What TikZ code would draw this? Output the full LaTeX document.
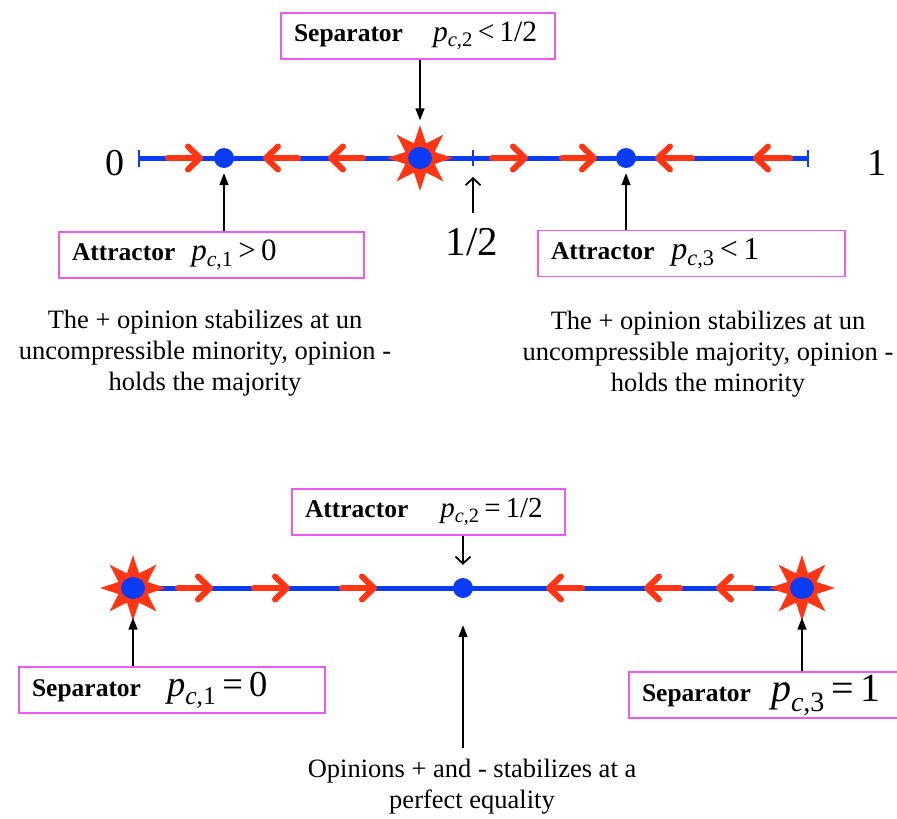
\documentclass[tikz,border=0pt]{standalone}
\usepackage{fontspec}
\setmainfont{Liberation Serif}
\usetikzlibrary{arrows.meta,shapes.geometric}

\definecolor{cblue}{HTML}{0A3CF5}
\definecolor{cred}{HTML}{FF3514}
\definecolor{cpink}{HTML}{EE5AEE}

% p with the "c,k" subscript, as printed in the boxes
\newcommand{\pcsub}[1]{\textit{p}\textsubscript{\textit{c},#1}}

\begin{document}
\begin{tikzpicture}[x=1pt, y=-1pt,
  axis/.style={cblue, line width=5pt},
  tickmark/.style={cblue, line width=2.5pt},
  flow/.style={cred, line width=6pt, line cap=round,
    -{Straight Barb[length=12pt,width=23pt,round]}},
  dotnode/.style={circle, fill=cblue, minimum size=20pt, inner sep=0pt},
  sepstar/.style={star, star points=8, star point ratio=2.1, minimum size=66pt,
    fill=cred, inner sep=0pt},
  stardot/.style={ellipse, fill=cblue, minimum width=24pt, minimum height=22pt,
    inner sep=0pt},
  box/.style={draw=cpink, line width=1.5pt, minimum height=46pt, inner xsep=13pt,
    inner ysep=0pt, align=left, font=\fontsize{25.5}{28}\selectfont},
  ptr/.style={line width=1.5pt, -{Triangle[length=12pt,width=9pt]}},
  optr/.style={line width=1.8pt, -{Straight Barb[length=7pt,width=15pt]}},
  caption/.style={align=center, font=\fontsize{26.5}{31}\selectfont},
  endlabel/.style={font=\fontsize{38}{38}\selectfont}]

\useasboundingbox (0,0) rectangle (897,819);

% ============================================================ upper line
\coordinate (lo) at (139,158);
\coordinate (hi) at (808,158);
\coordinate (mid) at (473,158);
\draw[axis] (lo) -- (hi);
\foreach \c in {lo,hi}
  \draw[tickmark] ([yshift=-8.5pt]\c) -- ([yshift=8.5pt]\c);
\draw[tickmark, line width=2pt] ([yshift=-8pt]mid) -- ([yshift=8pt]mid);

\foreach \a/\b in {168/203, 298/263, 363/328, 492/528, 562/597, 692/655, 790/753}
  \draw[flow] (\a,158) -- (\b,158);

\node[sepstar] (s2) at (420,158) {};
\node[stardot] (s2dot) at (s2) {};
\node[dotnode] (d1) at (224,158) {};
\node[dotnode] (d3) at (626,158) {};

\node[endlabel] (zero) at (115,163) {0};
\node[endlabel] (one) at (877,163) {1};
\node[endlabel, font=\fontsize{41}{41}\selectfont] (half) at (472,242) {1/2};

\node[box, text width=248pt] (sep2) at (418,36)
  {\textbf{Separator}\hspace{30pt}{\fontsize{29.5}{30}\selectfont\pcsub{2}\,<\,1/2}};
\node[box, text width=279pt] (att1) at (211.5,255)
  {\textbf{Attractor}\hspace{16pt}{\fontsize{31}{31}\selectfont\pcsub{1}\,>\,0}};
\node[box, text width=281pt] (att3) at (691.5,253.5)
  {\textbf{Attractor}\hspace{17pt}{\fontsize{32}{32}\selectfont\pcsub{3}\,<\,1}};

\draw[ptr] (sep2.south -| s2) -- ([yshift=4pt]s2.north);
\draw[ptr] (att1.north -| d1) -- ([yshift=-5pt]d1.south);
\draw[ptr] (att3.north -| d3) -- ([yshift=-5pt]d3.south);
\draw[optr, shorten <=12pt] (half.north -| mid) -- ([yshift=-19pt]mid);

\node[caption] (capl) at (205,353)
  {The + opinion stabilizes at un\\uncompressible minority, opinion -\\holds the majority};
\node[caption] (capr) at (708,354)
  {The + opinion stabilizes at un\\uncompressible majority, opinion -\\holds the minority};

% ============================================================ lower line
\coordinate (blo) at (133,588);
\coordinate (bhi) at (802,588);
\draw[axis] (blo) -- (bhi);
\foreach \a/\b in {178/213, 254/290, 342/377, 582/546, 680/644, 752/716}
  \draw[flow] (\a,588) -- (\b,588);

\node[sepstar] (s1) at (blo) {};
\node[stardot] (s1dot) at (s1) {};
\node[sepstar] (s3) at (bhi) {};
\node[stardot] (s3dot) at (s3) {};
\node[dotnode] (d2) at (463,588) {};

\node[box, text width=247pt] (att2) at (428.5,512)
  {\textbf{Attractor}\hspace{32pt}{\fontsize{29}{29}\selectfont\pcsub{2}\,=\,1/2}};
\node[box, text width=280pt] (sep1) at (172,690)
  {\textbf{Separator}\hspace{26pt}{\fontsize{36.5}{37}\selectfont\pcsub{1}\,=\,0}};
\node[box, text width=255pt] (sep3) at (769.5,695)
  {\textbf{Separator}\hspace{20pt}{\fontsize{40}{40}\selectfont\pcsub{3}\,=\,1}};

\draw[optr] (att2.south -| d2) -- ([yshift=13pt]d2.north);
\draw[ptr] (sep1.north -| s1) -- ([yshift=4pt]s1.south);
\draw[ptr] (sep3.north -| s3) -- ([yshift=4pt]s3.south);

\node[caption] (capm) at (472,787)
  {Opinions + and - stabilizes at a\\perfect equality};
\draw[ptr, shorten <=8pt] (capm.north -| d2) -- ([yshift=-27pt]d2.south);

\end{tikzpicture}
\end{document}
